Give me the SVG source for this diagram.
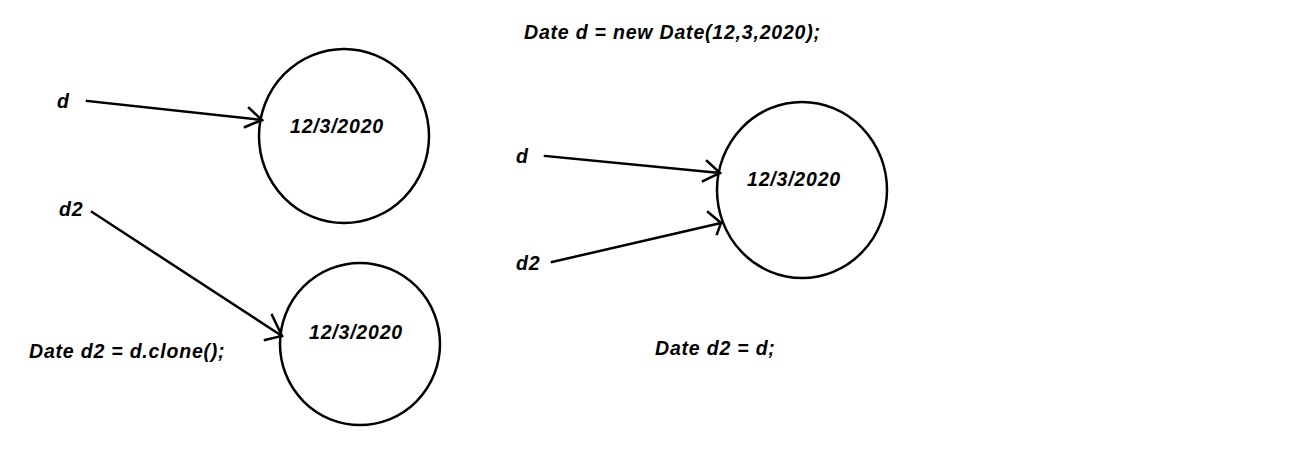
<svg xmlns="http://www.w3.org/2000/svg" width="1297" height="454" viewBox="0 0 1297 454">
<style>
text{font-family:"Liberation Sans",Arial,sans-serif;font-weight:bold;font-style:italic;font-size:19.5px;letter-spacing:0.8px;fill:#000}
.c{fill:none;stroke:#000;stroke-width:2.5}
.l{fill:none;stroke:#000;stroke-width:2.5;stroke-linecap:square}
</style>
<rect width="1297" height="454" fill="#fff"/>
<g id="node-obj1"><ellipse class="c" cx="344" cy="136" rx="85" ry="87"/><text x="290" y="133">12/3/2020</text></g>
<g id="node-obj2"><ellipse class="c" cx="360" cy="344" rx="80" ry="81"/><text x="309" y="339">12/3/2020</text></g>
<g id="node-obj3"><ellipse class="c" cx="802" cy="190" rx="85" ry="88"/><text x="747" y="186">12/3/2020</text></g>
<g id="labels">
<text x="57" y="108">d</text>
<text x="59" y="216">d2</text>
<text x="29" y="358">Date d2 = d.clone();</text>
<text x="524" y="39">Date d = new Date(12,3,2020);</text>
<text x="516" y="163">d</text>
<text x="516" y="270">d2</text>
<text x="655" y="355">Date d2 = d;</text>
</g>
<g id="connectors">
<path class="l" d="M87 101 L262 120 M249 108 L262 120 L245 127"/>
<path class="l" d="M92 212 L282 336 M272 315 L282 336 L265 340"/>
<path class="l" d="M545 156 L720 173 M707 161 L720 173 L703 181"/>
<path class="l" d="M552 262 L721 223 M708 212 L721 223 L717 234"/>
</g>
</svg>
